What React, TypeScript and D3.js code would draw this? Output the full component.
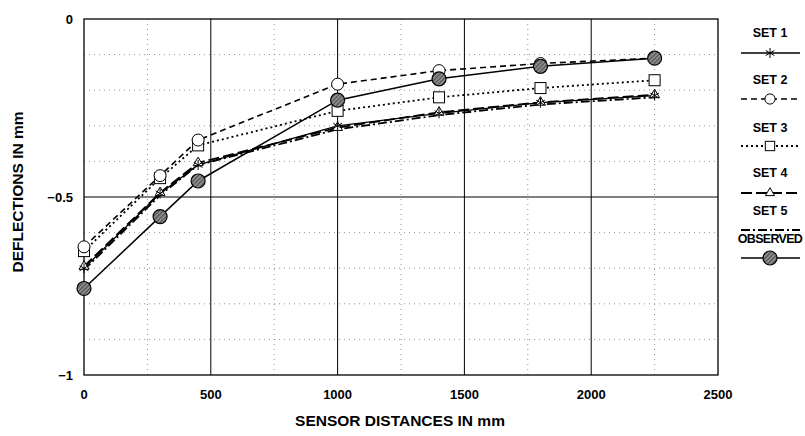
import React from "react";
import * as d3 from "d3";

const distances = [0, 300, 450, 1000, 1400, 1800, 2250];
const set1 = [-0.7, -0.49, -0.41, -0.3, -0.265, -0.235, -0.215];
const set2 = [-0.64, -0.44, -0.34, -0.183, -0.145, -0.125, -0.11];
const set3 = [-0.652, -0.447, -0.355, -0.258, -0.22, -0.194, -0.172];
const set4 = [-0.695, -0.488, -0.404, -0.305, -0.262, -0.234, -0.213];
const set5 = [-0.705, -0.495, -0.41, -0.31, -0.27, -0.24, -0.22];
const observed = [-0.757, -0.555, -0.455, -0.228, -0.168, -0.133, -0.11];

const xTicks = [0, 500, 1000, 1500, 2000, 2500];
const yTicks = [0, -0.5, -1];
const xMinor = [250, 750, 1250, 1750, 2250];
const yMinor = [-0.1, -0.2, -0.3, -0.4, -0.6, -0.7, -0.8, -0.9];
const seriesNames = ["SET 1", "SET 2", "SET 3", "SET 4", "SET 5", "OBSERVED"];

const W = 805, H = 436;
const L = 84, R = 718, T = 19, B = 375;
const font = "'Liberation Sans', Arial, sans-serif";

type Style = { dash: string; width: number; marker: string };
const styles: Style[] = [
  { dash: "", width: 1.3, marker: "star" },
  { dash: "6,4", width: 1.6, marker: "circle" },
  { dash: "2,3", width: 1.8, marker: "square" },
  { dash: "11,4", width: 1.8, marker: "triangle" },
  { dash: "9,3,2,3", width: 1.8, marker: "none" },
  { dash: "", width: 1.5, marker: "observed" },
];

function Marker({ kind, x, y, small }: { kind: string; x: number; y: number; small?: boolean }) {
  const k = small ? 0.85 : 1;
  if (kind === "star") {
    const p = d3.symbol(d3.symbolAsterisk, 70)();
    return <path d={p || ""} transform={`translate(${x},${y})`} fill="none" stroke="#000" strokeWidth={1} />;
  }
  if (kind === "circle") return <circle cx={x} cy={y} r={6 * k} fill="#fff" stroke="#000" strokeWidth={1} />;
  if (kind === "square")
    return <rect x={x - 5.5 * k} y={y - 5.5 * k} width={11 * k} height={11 * k} fill="#fff" stroke="#000" strokeWidth={1} />;
  if (kind === "triangle") {
    const p = d3.symbol(d3.symbolTriangle2, 70 * k)();
    return <path d={p || ""} transform={`translate(${x},${y})`} fill="#fff" stroke="#000" strokeWidth={1} />;
  }
  if (kind === "observed")
    return <circle cx={x} cy={y} r={7} fill="url(#hatch)" stroke="#000" strokeWidth={1.2} />;
  return null;
}

export default function App() {
  const x = d3.scaleLinear().domain([0, 2500]).range([L, R]);
  const y = d3.scaleLinear().domain([-1, 0]).range([B, T]);
  const all = [set1, set2, set3, set4, set5, observed];
  const line = d3
    .line<number>()
    .x((_, i) => x(distances[i]))
    .y((v) => y(v));
  const order = [2, 1, 4, 3, 0, 5];
  const legendY = [
    [33, 53],
    [80, 99],
    [128, 146],
    [173, 193],
    [211, 230],
    [239, 258],
  ];
  return (
    <svg width={W} height={H} style={{ position: "absolute", left: 0, top: 0, background: "#fff" }}>
      <defs>
        <pattern id="hatch" width="3" height="3" patternUnits="userSpaceOnUse" patternTransform="rotate(45)">
          <rect width="3" height="3" fill="#8a8a8a" />
          <line x1="0" y1="0" x2="0" y2="3" stroke="#333" strokeWidth="1.4" />
        </pattern>
      </defs>
      <rect x={0} y={0} width={W} height={H} fill="#fff" />
      {xMinor.map((v) => (
        <line key={"xm" + v} x1={x(v)} x2={x(v)} y1={T} y2={B} stroke="#777" strokeWidth={0.8} strokeDasharray="1,4" />
      ))}
      {yMinor.map((v) => (
        <line key={"ym" + v} x1={L} x2={R} y1={y(v)} y2={y(v)} stroke="#777" strokeWidth={0.8} strokeDasharray="1,4" />
      ))}
      {xTicks.slice(1, -1).map((v) => (
        <line key={"xg" + v} x1={x(v)} x2={x(v)} y1={T} y2={B} stroke="#000" strokeWidth={1} />
      ))}
      <line x1={L} x2={R} y1={y(-0.5)} y2={y(-0.5)} stroke="#000" strokeWidth={1} />
      <rect x={L} y={T} width={R - L} height={B - T} fill="none" stroke="#000" strokeWidth={1.3} />
      {yTicks.map((v) => (
        <text key={"yt" + v} x={L - 11} y={y(v)} dy="0.35em" textAnchor="end" fontFamily={font} fontWeight="bold" fontSize={13}>
          {v === 0 ? "0" : "−" + Math.abs(v)}
        </text>
      ))}
      {xTicks.map((v) => (
        <text key={"xt" + v} x={x(v)} y={B + 19} dy="0.35em" textAnchor="middle" fontFamily={font} fontWeight="bold" fontSize={13}>
          {v}
        </text>
      ))}
      <text x={400} y={426} textAnchor="middle" fontFamily={font} fontSize={15.5} fontWeight="bold">
        SENSOR DISTANCES IN mm
      </text>
      <text transform={`translate(23,${192}) rotate(-90)`} textAnchor="middle" fontFamily={font} fontSize={15.5} fontWeight="bold">
        DEFLECTIONS IN mm
      </text>
      {order.map((si) => (
        <path key={"l" + si} d={line(all[si]) || ""} fill="none" stroke="#000" strokeWidth={styles[si].width} strokeDasharray={styles[si].dash} />
      ))}
      {order.map((si) =>
        all[si].map((v, i) => <Marker key={"m" + si + "-" + i} kind={styles[si].marker} x={x(distances[i])} y={y(v)} />)
      )}
      {seriesNames.map((n, i) => (
        <g key={"lg" + n}>
          <text x={770} y={legendY[i][0]} dy="0.35em" textAnchor="middle" fontFamily={font} fontSize={12.5} fontWeight="bold" letterSpacing={n === "OBSERVED" ? -0.7 : 0}>
            {n}
          </text>
          <line x1={741} x2={800} y1={legendY[i][1]} y2={legendY[i][1]} stroke="#000" strokeWidth={styles[i].width} strokeDasharray={styles[i].dash} />
          <Marker kind={styles[i].marker} x={770} y={legendY[i][1]} small />
        </g>
      ))}
    </svg>
  );
}
